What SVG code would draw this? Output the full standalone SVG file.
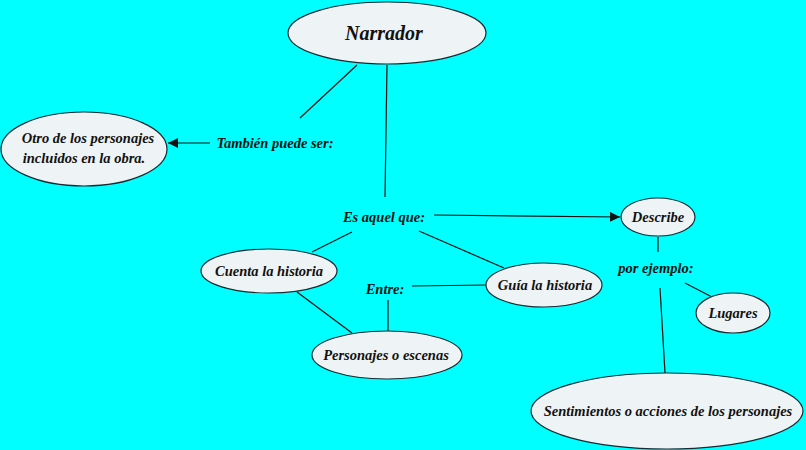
<svg xmlns="http://www.w3.org/2000/svg" width="806" height="450" viewBox="0 0 806 450">
<defs>
<style>
.bg{fill:#00FFFF}
.n{fill:#EEF3F5;stroke:#1a2a33;stroke-width:1.2}
.t{font-family:'Liberation Serif','Times New Roman',serif;font-weight:bold;font-style:italic;font-size:14.5px;fill:#111;text-anchor:middle}
.big{font-size:20px}
.c line{stroke:#111;stroke-width:1.2}
</style>
<marker id="ah" viewBox="0 0 10 10" refX="10" refY="5" markerWidth="10" markerHeight="10" markerUnits="userSpaceOnUse" orient="auto">
<path d="M0,0 L10,5 L0,10 z" fill="#111"/>
</marker>
</defs>
<rect class="bg" x="0" y="0" width="806" height="450"/>
<g id="connectors" class="c">
<line x1="357" y1="65" x2="300" y2="118"/>
<line x1="387" y1="65" x2="385" y2="197"/>
<line x1="210" y1="143" x2="168" y2="143" marker-end="url(#ah)"/>
<line x1="434" y1="215" x2="620" y2="217" marker-end="url(#ah)"/>
<line x1="352" y1="232" x2="312" y2="252"/>
<line x1="419" y1="231" x2="504" y2="268"/>
<line x1="412" y1="286" x2="487" y2="285"/>
<line x1="388" y1="300" x2="388" y2="331"/>
<line x1="297" y1="292" x2="352" y2="333"/>
<line x1="658" y1="237" x2="658" y2="252"/>
<line x1="685" y1="283" x2="712" y2="297"/>
<line x1="660" y1="288" x2="665" y2="373"/>
</g>
<g id="narrador">
<ellipse class="n" cx="387" cy="33" rx="99" ry="31"/>
<text class="t big" x="384" y="40">Narrador</text>
</g>
<g id="otro">
<ellipse class="n" cx="84" cy="149" rx="83" ry="37"/>
<text class="t" x="88" y="143">Otro de los personajes</text>
<text class="t" x="84" y="163">incluidos en la obra.</text>
</g>
<g id="tambien">
<text class="t" x="275" y="148">También puede ser:</text>
</g>
<g id="esaquel">
<text class="t" x="384" y="222">Es aquel que:</text>
</g>
<g id="describe">
<ellipse class="n" cx="658" cy="217" rx="37" ry="19"/>
<text class="t" x="658" y="222">Describe</text>
</g>
<g id="porejemplo">
<text class="t" x="656" y="273">por ejemplo:</text>
</g>
<g id="lugares">
<ellipse class="n" cx="733" cy="313" rx="37" ry="20"/>
<text class="t" x="733" y="318">Lugares</text>
</g>
<g id="sentimientos">
<ellipse class="n" cx="667" cy="411" rx="136" ry="38"/>
<text class="t" x="668" y="416">Sentimientos o acciones de los personajes</text>
</g>
<g id="cuenta">
<ellipse class="n" cx="269" cy="271" rx="68" ry="22"/>
<text class="t" x="269" y="276">Cuenta la historia</text>
</g>
<g id="guia">
<ellipse class="n" cx="544" cy="285" rx="58" ry="22"/>
<text class="t" x="545" y="290">Guía la historia</text>
</g>
<g id="entre">
<text class="t" x="385" y="294">Entre:</text>
</g>
<g id="personajes">
<ellipse class="n" cx="387" cy="355" rx="75" ry="24"/>
<text class="t" x="386" y="360">Personajes o escenas</text>
</g>
</svg>
